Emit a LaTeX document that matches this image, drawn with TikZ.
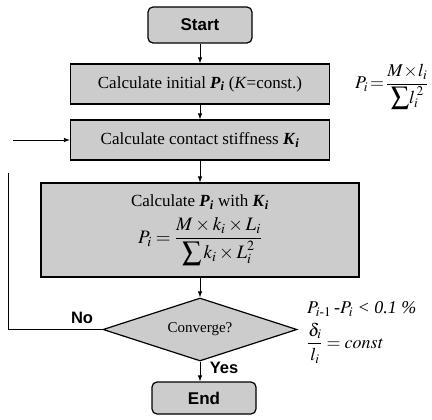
\documentclass[tikz,border=0pt]{standalone}
\usepackage{amsmath}
\usepackage{mathptmx}
\usepackage{fontspec}
\setmainfont{Liberation Serif}
\setsansfont{Liberation Sans}
\usetikzlibrary{shapes.geometric,arrows.meta}

\newcommand{\bisub}[2]{\textbf{\textit{#1}\textsubscript{\textit{#2}}}}

\begin{document}
\begin{tikzpicture}[x=1pt, y=-1pt,
    box/.style={draw, line width=1.2pt, fill=black!20, inner sep=0pt,
        font=\fontsize{17}{20}\selectfont},
    term/.style={box, rounded corners=5pt, minimum width=104pt,
        font=\sffamily\bfseries\fontsize{17}{20}\selectfont},
    tag/.style={font=\sffamily\bfseries\fontsize{16.5}{20}\selectfont},
    side/.style={anchor=west, inner sep=0pt, font=\fontsize{18}{21}\selectfont},
    flow/.style={line width=0.8pt, -{Latex[length=6pt,width=4.5pt]}},
    back/.style={line width=0.8pt}]

    \useasboundingbox (0,0) rectangle (432,420);

    % 1. START
    \node[term, minimum height=36pt] (start) at (200,25) {Start};

    % 2. INITIAL LOADS
    \node[box, minimum width=259pt, minimum height=40pt] (init) at (200,84)
        {Calculate initial \bisub{P}{i} (\textit{K}=const.)};
    \node[anchor=west, inner sep=0pt, font=\fontsize{18}{21}\selectfont] (pinit) at (355,87)
        {$P_i\!=\!\dfrac{M\!\times\! l_i}{\displaystyle\sum\! l_i^{\,2}}$};

    % 3. CONTACT STIFFNESS
    \node[box, minimum width=259pt, minimum height=40pt] (contact) at (200,140)
        {Calculate contact stiffness \bisub{K}{i}};

    % 4. LOADS WITH STIFFNESS
    \node[box, minimum width=318pt, minimum height=94pt, align=center] (calc) at (200,230)
        {Calculate \bisub{P}{i} with \bisub{K}{i}\\[7pt]
         {\fontsize{19}{22}\selectfont
         $\displaystyle P_i=\frac{M\times k_i\times L_i}{\displaystyle\sum k_i\times L_i^2}$}};

    % 5. CONVERGENCE CHECK
    \node[box, shape=diamond, aspect=3, minimum width=194pt, minimum height=63pt,
        font=\fontsize{15}{18}\selectfont] (conv) at (200,329.5) {Converge?};
    \node[side] (crit) at (307,309)
        {\itshape $P_{i\text{-}1}$\,-$P_i$ < 0.1 \%};
    \node[side] (ratio) at (307,343) {$\dfrac{\delta_i}{l_i}=\mathit{const}$};

    % 6. END
    \node[term, minimum height=32pt] (stop) at (204,398) {End};

    % ARROWS DOWN THE CHAIN
    \draw[flow] (start) -- (init);
    \draw[flow] (init) -- (contact);
    \draw[flow] (contact) -- (calc);
    \draw[flow] (calc) -- (conv);
    \draw[flow] (conv.south) -- (conv.south |- stop.north);

    % LOOP BACK (left side, broken as in the original)
    \coordinate (loopcorner) at (8,329.5);
    \coordinate (looptop) at (8,173);
    \coordinate (feedin) at (13,140);
    \draw[back] (conv.west) -- (loopcorner) -- (looptop);
    \draw[flow] (feedin) -- (contact.west);

    % BRANCH LABELS
    \node[tag] (no) at (82,318) {No};
    \node[tag] (yes) at (224,368) {Yes};

\end{tikzpicture}
\end{document}
